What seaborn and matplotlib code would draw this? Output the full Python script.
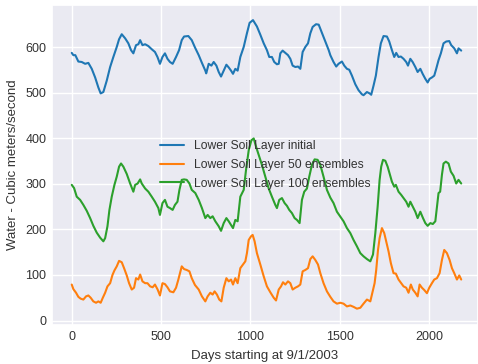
import matplotlib.pyplot as plt
import pandas as pd
import seaborn as sns

# Values (day index, cubic meters/second)
initial_days = [
    0, 9, 20, 37, 56, 75, 93, 112, 131, 149,
    162, 177, 196, 215, 233, 252, 265, 280, 299, 317,
    332, 345, 360, 373, 383, 396, 411, 429, 448, 466,
    480, 494, 508, 522, 536, 550, 565, 584, 601, 616,
    629, 653, 672, 690, 711, 729, 748, 753, 767, 782,
    795, 810, 823, 836, 851, 866, 879, 892, 903, 916,
    929, 944, 963, 981, 996, 1015, 1037, 1056, 1075, 1093,
    1106, 1121, 1134, 1149, 1159, 1168, 1181, 1196, 1211, 1224,
    1237, 1252, 1267, 1280, 1293, 1308, 1323, 1336, 1349, 1368,
    1383, 1402, 1420, 1439, 1448, 1466, 1481, 1494, 1513, 1526,
    1541, 1554, 1569, 1588, 1606, 1625, 1634, 1653, 1668, 1677,
    1690, 1703, 1718, 1731, 1746, 1765, 1778, 1793, 1806, 1817,
    1830, 1843, 1858, 1873, 1883, 1896, 1909, 1924, 1937, 1952,
    1965, 1980, 1993, 2004, 2017, 2030, 2041, 2054, 2067, 2082,
    2097, 2114, 2125, 2142, 2157, 2166, 2181]
initial_vals = [
    588, 583, 583, 569, 568, 564, 566, 553, 534, 512,
    499, 502, 527, 557, 579, 601, 618, 629, 620, 609,
    594, 587, 605, 607, 616, 605, 607, 603, 596, 590,
    579, 564, 579, 587, 575, 568, 564, 579, 594, 616,
    624, 625, 616, 600, 583, 566, 549, 543, 564, 560,
    568, 560, 546, 536, 549, 562, 556, 549, 542, 553,
    549, 579, 601, 631, 654, 660, 646, 628, 609, 594,
    579, 579, 568, 563, 564, 587, 593, 588, 583, 575,
    560, 557, 558, 553, 590, 601, 609, 631, 645, 651,
    650, 631, 613, 594, 583, 568, 558, 564, 569, 560,
    553, 551, 538, 519, 506, 497, 495, 502, 499, 496,
    516, 538, 579, 609, 625, 624, 613, 594, 579, 588,
    579, 580, 575, 568, 560, 575, 568, 557, 546, 553,
    542, 531, 523, 531, 534, 538, 553, 572, 587, 609,
    613, 614, 605, 598, 587, 598, 593]

ens50_days = [
    0, 9, 24, 37, 50, 65, 80, 93, 106, 121,
    136, 149, 162, 174, 187, 200, 215, 228, 239, 252,
    265, 280, 293, 308, 321, 336, 349, 360, 373, 383,
    396, 411, 424, 439, 453, 466, 481, 494, 508, 522,
    536, 550, 569, 584, 597, 606, 616, 629, 644, 659,
    672, 690, 711, 729, 748, 761, 776, 789, 800, 813,
    826, 838, 851, 866, 879, 892, 903, 916, 929, 944,
    959, 972, 981, 991, 1004, 1013, 1024, 1037, 1056, 1075,
    1093, 1112, 1131, 1144, 1159, 1172, 1183, 1196, 1211, 1224,
    1237, 1252, 1267, 1280, 1293, 1308, 1323, 1336, 1349, 1364,
    1379, 1392, 1410, 1429, 1448, 1466, 1485, 1504, 1522, 1541,
    1560, 1578, 1597, 1616, 1634, 1653, 1672, 1685, 1696, 1705,
    1715, 1724, 1737, 1750, 1761, 1774, 1787, 1802, 1815, 1830,
    1845, 1858, 1873, 1886, 1899, 1910, 1924, 1937, 1948, 1961,
    1974, 1989, 2002, 2017, 2030, 2045, 2060, 2073, 2086, 2101,
    2116, 2129, 2142, 2157, 2170, 2181]
ens50_vals = [
    79, 69, 61, 52, 48, 46, 53, 55, 50, 42,
    39, 42, 39, 50, 61, 75, 82, 100, 110, 119,
    131, 128, 115, 99, 82, 68, 72, 93, 90, 101,
    86, 82, 82, 75, 73, 79, 68, 55, 82, 80,
    73, 64, 62, 72, 90, 104, 119, 113, 111, 108,
    93, 78, 68, 53, 42, 53, 61, 57, 64, 57,
    46, 42, 72, 93, 86, 90, 79, 93, 82, 115,
    123, 130, 148, 177, 185, 188, 174, 148, 123, 97,
    75, 62, 50, 44, 68, 75, 84, 79, 86, 82,
    68, 72, 75, 79, 108, 111, 115, 135, 141, 133,
    123, 104, 82, 64, 52, 42, 37, 39, 37, 31,
    33, 30, 26, 28, 37, 46, 42, 64, 82, 111,
    155, 181, 203, 192, 174, 152, 126, 104, 103, 90,
    82, 75, 72, 61, 79, 68, 61, 53, 79, 72,
    67, 60, 72, 82, 90, 93, 104, 133, 155, 148,
    133, 115, 104, 90, 99, 90]

ens100_days = [
    0, 13, 28, 47, 65, 84, 103, 121, 140, 159,
    177, 187, 200, 211, 224, 239, 252, 265, 276, 289,
    308, 327, 345, 355, 369, 383, 392, 411, 429, 448,
    466, 485, 494, 508, 522, 536, 550, 565, 578, 592,
    603, 616, 629, 644, 659, 672, 692, 711, 729, 748,
    761, 776, 789, 804, 823, 836, 851, 866, 879, 892,
    903, 916, 929, 944, 963, 976, 991, 1006, 1019, 1032,
    1047, 1065, 1084, 1103, 1121, 1140, 1149, 1162, 1177, 1192,
    1205, 1218, 1233, 1248, 1261, 1276, 1289, 1302, 1317, 1330,
    1345, 1360, 1377, 1392, 1410, 1429, 1448, 1466, 1485, 1504,
    1522, 1541, 1560, 1578, 1597, 1616, 1634, 1653, 1672, 1687,
    1700, 1713, 1724, 1733, 1743, 1756, 1769, 1780, 1793, 1806,
    1815, 1830, 1845, 1858, 1873, 1886, 1896, 1910, 1924, 1937,
    1952, 1967, 1980, 1993, 2008, 2022, 2036, 2045, 2054, 2063,
    2073, 2082, 2095, 2110, 2123, 2138, 2153, 2166, 2181]
ens100_vals = [
    298, 291, 272, 265, 254, 241, 225, 208, 193, 182,
    174, 181, 207, 243, 272, 298, 316, 338, 345, 338,
    322, 301, 283, 298, 301, 310, 301, 290, 283, 272,
    261, 247, 232, 258, 265, 250, 247, 243, 254, 261,
    287, 309, 310, 309, 301, 287, 280, 265, 247, 225,
    232, 225, 229, 218, 207, 197, 214, 225, 218, 210,
    203, 221, 218, 272, 287, 331, 374, 396, 400, 382,
    364, 342, 316, 290, 272, 254, 247, 265, 269, 258,
    252, 243, 236, 225, 221, 214, 265, 283, 290, 316,
    342, 354, 353, 342, 316, 287, 270, 258, 239, 228,
    218, 203, 192, 177, 163, 148, 141, 135, 130, 145,
    192, 250, 309, 338, 353, 351, 338, 323, 305, 294,
    298, 283, 276, 269, 261, 250, 261, 250, 239, 225,
    239, 225, 214, 208, 214, 212, 218, 250, 280, 283,
    320, 345, 349, 345, 327, 318, 301, 309, 301]

labels = ["Lower Soil Layer initial", "Lower Soil Layer 50 ensembles", "Lower Soil Layer 100 ensembles"]
colors = ["#1f77b4", "#ff7f0e", "#2ca02c"]

sns.set_theme(style="darkgrid")
plt.rcParams['font.family'] = ['Liberation Sans', 'DejaVu Sans']

series = [(initial_days, initial_vals), (ens50_days, ens50_vals), (ens100_days, ens100_vals)]
df = pd.concat([pd.DataFrame({"day": d, "value": v, "series": lab})
                for (d, v), lab in zip(series, labels)], ignore_index=True)

fig = plt.figure(figsize=(4.78, 3.64), dpi=100)
ax = fig.add_axes([0.109, 0.107, 0.891, 0.879])
sns.lineplot(data=df, x="day", y="value", hue="series", hue_order=labels,
             palette=colors, linewidth=1.5, ax=ax)

ax.set_xlim(-110, 2275)
ax.set_ylim(-10, 693)
ax.set_xticks([0, 500, 1000, 1500, 2000])
ax.set_yticks([0, 100, 200, 300, 400, 500, 600])
ax.tick_params(labelsize=9, colors=".2", length=0, pad=4)
ax.set_xlabel("Days starting at 9/1/2003", fontsize=9.5, color=".2", labelpad=5)
ax.set_ylabel("Water - Cubic meters/second", fontsize=9.5, color=".2", labelpad=5)

handles, labs = ax.get_legend_handles_labels()
ax.legend(handles, labs, loc="center", frameon=False, fontsize=8.7,
          labelcolor=".2", labelspacing=0.55)

fig.savefig("out.png", dpi=100)
